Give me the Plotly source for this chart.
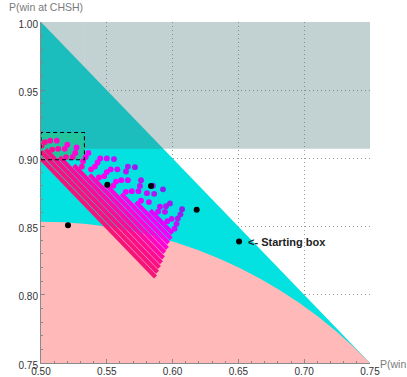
import plotly.graph_objects as go

# ---- axes ----
x_ticks = [0.50, 0.55, 0.60, 0.65, 0.70, 0.75]
y_ticks = [0.75, 0.80, 0.85, 0.90, 0.95, 1.00]
x_tick_text = ["0.50", "0.55", "0.60", "0.65", "0.70", "0.75"]
y_tick_text = ["0.75", "0.80", "0.85", "0.90", "0.95", "1.00"]

# ---- regions ----
cyan_vx = [0.5, 0.75, 0.5]
cyan_vy = [1.0, 0.75, 0.75]
circle_center = [0.5, 0.5]
circle_radius = 0.35355
gray_band_y = [0.907, 1.0]
box_x = [0.5, 0.533]
box_y = [0.899, 0.919]

# ---- point cloud: stripes along x + y = const ----
stripe_sums = [1.400, 1.405, 1.410, 1.415, 1.420, 1.425, 1.430, 1.435,
               1.440, 1.445, 1.450, 1.455, 1.460, 1.465, 1.470]
stripe_colors = ["#F5157A", "#F8127F", "#FA0F88", "#FC0C95", "#FE09A8",
                 "#FF06C0", "#FF04D8", "#FC02EC", "#F500F8", "#E800FF",
                 "#D608FF", "#C210F8", "#AE18F2", "#9A1EEE", "#8A22EE"]
dense_x0 = [0.500, 0.500, 0.5035, 0.514, 0.525, 0.537, 0.549, 0.561,
            0.572, 0.583, None, None, None, None, None]
dense_x1 = [0.587, 0.5885, 0.590, 0.5915, 0.593, 0.594, 0.596, 0.597,
            0.599, 0.600, None, None, None, None, None]
dot_x = [
    [],
    [],
    [0.5005],
    [0.503, 0.5085],
    [0.507, 0.513, 0.519],
    [0.512, 0.518, 0.524, 0.531],
    [0.520, 0.526, 0.532, 0.538, 0.544],
    [0.527, 0.534, 0.541, 0.548, 0.555],
    [0.536, 0.543, 0.550, 0.557, 0.5645],
    [0.545, 0.553, 0.561, 0.569, 0.576],
    [0.550, 0.558, 0.566, 0.574, 0.582, 0.589, 0.596, 0.6015],
    [0.5555, 0.5646, 0.5752, 0.5805, 0.5904, 0.5942, 0.5993, 0.603],
    [0.566, 0.576, 0.586, 0.595, 0.604],
    [0.5714, 0.585, 0.598, 0.606],
    [0.5927, 0.6072],
]

black_x = [0.5205, 0.5504, 0.5836, 0.6183, 0.6505]
black_y = [0.851, 0.8807, 0.8798, 0.8624, 0.839]

fig = go.Figure()

for s, c, x0, x1, dx in zip(stripe_sums, stripe_colors, dense_x0, dense_x1, dot_x):
    if x0 is not None:
        fig.add_trace(go.Scatter(x=[x0, x1], y=[s - x0, s - x1], mode="lines",
                                 line=dict(color=c, width=4.2),
                                 hoverinfo="skip", showlegend=False))
    if dx:
        fig.add_trace(go.Scatter(x=dx, y=[s - v for v in dx], mode="markers",
                                 marker=dict(color=c, size=5.8, line=dict(width=0)),
                                 hoverinfo="skip", showlegend=False))

fig.add_trace(go.Scatter(x=black_x, y=black_y, mode="markers",
                         marker=dict(color="black", size=6, line=dict(width=0)),
                         showlegend=False))

cyan_path = "M {} {} L {} {} L {} {} Z".format(cyan_vx[0], cyan_vy[0], cyan_vx[1], cyan_vy[1],
                                               cyan_vx[2], cyan_vy[2])
r = circle_radius
gray_fill = "rgba(77,119,119,0.34)"
shapes = [
    dict(type="path", path=cyan_path, xref="x", yref="y", fillcolor="#03E1E1",
         line=dict(width=0), layer="between"),
    dict(type="circle", xref="x", yref="y",
         x0=circle_center[0] - r, x1=circle_center[0] + r,
         y0=circle_center[1] - r, y1=circle_center[1] + r,
         fillcolor="#FFB9B9", line=dict(width=0), layer="between"),
    dict(type="rect", xref="x", yref="y", x0=box_x[0], x1=box_x[1],
         y0=box_y[0], y1=box_y[1],
         fillcolor="#22C69E", line=dict(width=0), layer="between"),
    dict(type="rect", xref="x", yref="y", x0=box_x[1], x1=0.75,
         y0=gray_band_y[0], y1=gray_band_y[1],
         fillcolor=gray_fill, line=dict(width=0), layer="above"),
    dict(type="rect", xref="x", yref="y", x0=box_x[0], x1=box_x[1],
         y0=box_y[1], y1=gray_band_y[1],
         fillcolor=gray_fill, line=dict(width=0), layer="above"),
    dict(type="rect", xref="x", yref="y", x0=box_x[0], x1=box_x[1],
         y0=box_y[0], y1=box_y[1],
         fillcolor="rgba(0,0,0,0)", line=dict(color="black", width=1.1, dash="4px,3px"),
         layer="above"),
]

axis_common = dict(
    showgrid=True, gridcolor="#9A9A9A", griddash="1px,3px", gridwidth=1,
    showline=True, linecolor="#8A8A8A", linewidth=1,
    ticks="inside", ticklen=4, tickcolor="#8A8A8A",
    minor=dict(ticks="inside", ticklen=2, dtick=0.01, tickcolor="#8A8A8A", showgrid=False),
    zeroline=False, automargin=False,
)
tick_font = dict(family="Liberation Sans, Arial, sans-serif", size=10, color="#333333")

fig.update_layout(
    width=407, height=377,
    margin=dict(l=41, r=37, t=22, b=14),
    paper_bgcolor="white", plot_bgcolor="white",
    xaxis=dict(range=[0.5, 0.75], tickvals=x_ticks, ticktext=x_tick_text,
               tickfont=tick_font, ticklabelstandoff=-1, **axis_common),
    yaxis=dict(range=[0.75, 1.0], tickvals=y_ticks, ticktext=y_tick_text,
               tickfont=tick_font, ticklabelshift=2, **axis_common),
    shapes=shapes,
    annotations=[
        dict(text="P(win at CHSH)", xref="paper", yref="paper", x=-0.103, y=1.044,
             xanchor="left", yanchor="middle", showarrow=False,
             font=dict(family="Liberation Sans, Arial, sans-serif", size=10.5, color="#7A7A7A")),
        dict(text="P(win at box)", xref="paper", yref="paper", x=1.024, y=-0.003,
             xanchor="left", yanchor="middle", showarrow=False,
             font=dict(family="Liberation Sans, Arial, sans-serif", size=10.5, color="#7A7A7A")),
        dict(text="<b><- Starting box</b>", xref="x", yref="y", x=0.6555, y=0.839,
             xanchor="left", yanchor="middle", showarrow=False,
             font=dict(family="Liberation Sans, Arial, sans-serif", size=11, color="#222222")),
    ],
)

fig.write_html("out.html", config={"displayModeBar": False},
               post_script="document.body.style.margin='0';")
